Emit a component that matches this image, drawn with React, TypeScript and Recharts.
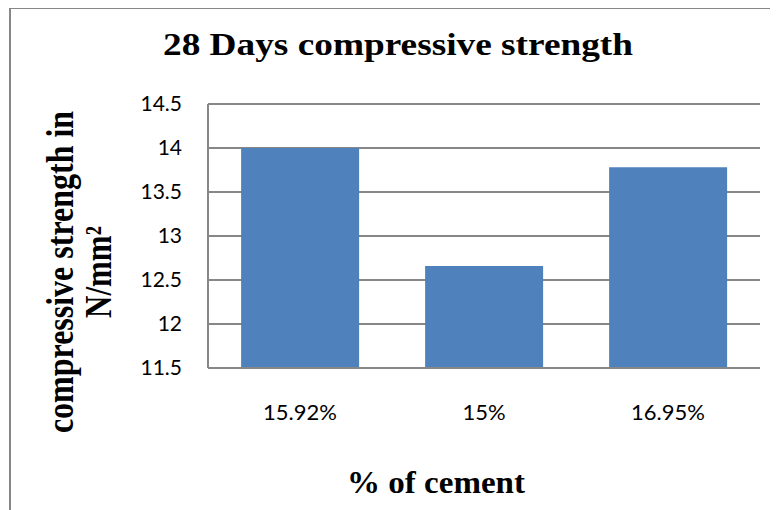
import { Bar, BarChart, CartesianGrid, Customized, XAxis, YAxis } from "recharts";

// values
const cementShares = ["15.92%", "15%", "16.95%"];
const strength28Days = [14.0, 12.66, 13.78];
const strengthTicks = [11.5, 12, 12.5, 13, 13.5, 14, 14.5];

const chartData = cementShares.map((name, i) => ({
  name,
  strength: strength28Days[i],
}));

const serif = '"Liberation Serif", "Times New Roman", serif';
const sans = 'Lato, "Open Sans", sans-serif';
const gridGray = "#878787";

// titles drawn into the svg, the source picture is a bit stretched sideways
function Titles() {
  return (
    <g fontFamily={serif} fontWeight="bold" fill="#000">
      <text x={387} y={46} fontSize={31} textAnchor="middle" textLength={470} lengthAdjust="spacingAndGlyphs">
        28 Days compressive strength
      </text>
      <text x={425} y={484} fontSize={32} textAnchor="middle" textLength={178} lengthAdjust="spacingAndGlyphs">
        % of cement
      </text>
      <g transform="translate(62,263) scale(1.2,1) rotate(-90)">
        <text x={0} y={0} fontSize={32} textAnchor="middle">
          compressive strength in
        </text>
      </g>
      <g transform="translate(100,263) scale(1.2,1) rotate(-90)">
        <text x={0} y={0} fontSize={31} textAnchor="middle">
          N/mm²
        </text>
      </g>
    </g>
  );
}

export default function App() {
  return (
    <div
      style={{
        marginTop: -1,
        marginLeft: 1,
        borderTop: `2px solid ${gridGray}`,
        borderLeft: `2px solid ${gridGray}`,
        width: 767,
        height: 501,
        background: "#fff",
      }}
    >
      <BarChart
        width={767}
        height={501}
        data={chartData}
        margin={{ top: 95, right: 18, left: 137, bottom: 102 }}
        barCategoryGap="18%"
      >
        <CartesianGrid vertical={false} stroke={gridGray} strokeWidth={2} />
        <XAxis
          dataKey="name"
          height={40}
          axisLine={{ stroke: gridGray, strokeWidth: 2 }}
          tickLine={false}
          tickSize={0}
          tickMargin={36}
          tick={{ fontFamily: sans, fontSize: 22, fill: "#000" }}
        />
        <YAxis
          width={60}
          domain={[11.5, 14.5]}
          ticks={strengthTicks}
          interval={0}
          allowDataOverflow
          axisLine={{ stroke: gridGray, strokeWidth: 2 }}
          tickLine={false}
          tickSize={0}
          tickMargin={26}
          tick={{ fontFamily: sans, fontSize: 21, fill: "#000" }}
        />
        <Bar dataKey="strength" fill="#4f81bd" isAnimationActive={false} />
        <Customized component={<Titles />} />
      </BarChart>
    </div>
  );
}
